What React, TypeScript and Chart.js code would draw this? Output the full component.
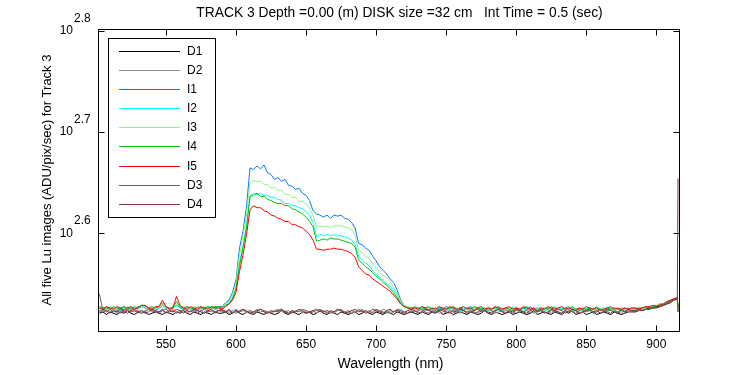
import { useEffect, useRef } from 'react';
import { Chart, registerables } from 'chart.js';

Chart.register(...registerables);

const wavelengths = [
  502.5,505,507.5,510,512.5,515,517.5,520,522.5,525,527.5,530,532.5,535,537.5,540,542.5,545,547.5,550,552.5,555,557.5,560,562.5,565,567.5,570,572.5,575,577.5,580,582.5,585,587.5,
  590,592.5,595,597.5,600,602.5,605,607.5,610,612.5,615,617.5,620,622.5,625,627.5,630,632.5,635,637.5,640,642.5,645,647.5,650,652.5,655,657.5,660,662.5,665,667.5,670,672.5,675,677.5,680,682.5,685,687.5,690,692.5,695,697.5,700,702.5,705,707.5,710,712.5,715,717.5,720,722.5,725,
  727.5,730,732.5,735,737.5,740,742.5,745,747.5,750,752.5,755,757.5,760,762.5,765,767.5,770,772.5,775,777.5,780,782.5,785,787.5,790,792.5,795,797.5,800,802.5,805,807.5,810,812.5,815,817.5,820,822.5,825,827.5,830,832.5,835,837.5,840,842.5,845,847.5,850,852.5,855,857.5,860,862.5,865,867.5,870,872.5,875,877.5,880,882.5,885,887.5,890,892.5,895,897.5,900,902.5,905,907.5,910,912.5,915,
  915.5,
];

const D1 = [
  332,333,331,333,332,331,333,332,334,332,331,333,332,333,331,332,333,332,331,333,332,331,333,332,334,332,331,333,332,331,333,332,331,333,332,
  332,333,331,332,334,332,331,333,332,331,333,332,331,333,332,331,332,334,332,331,333,332,331,333,332,333,331,332,334,332,331,333,332,331,333,332,331,332,333,331,332,334,332,331,333,332,331,333,332,331,333,332,331,332,333,
  332,331,333,332,331,333,332,334,331,332,333,331,332,333,332,331,333,332,331,332,334,332,331,333,332,331,332,333,331,332,333,332,331,332,334,331,332,333,332,331,333,332,331,333,332,334,331,332,333,331,332,333,331,332,333,332,331,333,332,331,332,333,
  333,333,334,334,335,335,336,336,337,338,339,340,342,343,
  333,
];
const D2 = [
  334,333,335,333,334,332,334,333,335,334,333,334,332,334,335,333,334,333,334,332,334,335,333,334,333,332,334,335,333,334,332,334,333,335,334,
  333,334,332,334,335,333,334,332,334,333,335,333,334,332,333,334,335,333,334,332,334,333,335,332,334,333,334,332,335,333,334,333,332,334,335,333,334,332,333,334,335,333,334,332,334,333,335,334,332,333,334,335,333,334,333,
  334,333,332,334,335,333,334,332,333,334,335,333,334,332,334,333,335,333,332,334,333,335,334,332,333,334,335,333,334,332,334,333,335,334,332,333,334,333,335,332,334,333,332,334,335,333,334,333,332,334,335,333,334,332,334,333,335,334,333,332,334,333,
  334,334,334,335,335,336,336,337,337,338,339,341,342,343,
  334,
];
const I1 = [
  336,335,337,335,336,334,336,337,335,336,335,337,337,336,335,336,334,336,338,336,335,336,338,336,335,337,335,336,334,336,335,337,336,336,337,
  337,340,342,348,358,385,400,423,462,460,464,461,465,457,455,450,452,448,450,444,443,440,441,436,434,429,419,416,415,413,415,412,415,414,415,412,411,408,403,389,388,385,383,378,374,369,366,363,359,356,350,342,338,336,336,
  336,335,337,336,335,336,334,336,335,337,336,335,334,336,335,336,337,335,336,334,335,336,335,337,335,334,336,335,336,335,334,336,335,337,335,336,334,335,336,335,334,336,335,336,337,335,334,335,336,335,334,336,335,335,336,334,335,336,335,334,335,336,
  335,336,335,336,336,337,336,337,338,339,340,341,343,343,
  336,
];
const I2 = [
  335,336,335,337,336,335,334,336,335,337,336,335,337,337,336,335,336,335,338,335,336,337,338,336,336,334,336,335,336,337,335,336,337,335,336,
  336,338,340,344,352,373,387,405,433,436,435,436,434,434,432,432,430,429,426,426,424,424,422,421,418,415,408,395,397,396,397,396,397,396,396,395,394,392,388,378,375,372,370,366,363,360,358,355,353,350,346,341,338,337,335,
  335,336,334,336,337,335,336,335,334,336,335,337,336,334,335,336,335,337,335,336,334,335,336,335,336,334,336,335,337,335,336,335,334,336,335,336,335,334,336,335,337,335,336,334,335,336,335,334,336,335,336,335,334,335,336,335,336,334,335,336,334,335,
  336,335,336,335,337,336,337,337,338,338,339,341,342,344,
  335,
];
const I3 = [
  336,337,335,336,334,336,336,335,337,335,336,336,337,336,335,336,335,336,339,336,336,335,339,337,335,336,335,337,336,335,337,336,335,337,336,
  336,339,341,346,355,379,396,415,446,449,448,448,445,445,441,442,439,439,435,435,432,432,428,428,425,422,414,404,405,404,405,403,405,405,405,404,403,401,396,383,381,378,376,372,368,364,362,360,357,352,347,341,338,337,336,
  336,335,337,335,336,334,336,337,335,336,334,336,335,336,337,335,334,336,335,336,335,337,336,335,334,336,335,336,335,337,335,334,336,335,336,335,337,335,334,336,335,336,334,335,337,336,335,334,336,335,336,334,335,336,335,337,335,334,335,336,335,336,
  335,336,336,335,336,337,336,337,338,339,340,341,342,343,
  336,
];
const I4 = [
  337,336,336,335,337,336,335,337,336,335,337,336,338,338,336,337,336,337,340,337,336,336,341,337,336,337,336,335,337,336,336,337,336,337,337,
  336,338,339,343,351,370,385,403,433,434,436,433,433,430,429,427,426,426,424,424,421,420,418,416,413,409,404,391,392,393,392,394,393,393,392,391,390,389,386,375,372,369,367,364,361,359,356,354,351,348,344,340,337,336,336,
  337,336,335,336,337,335,336,334,336,335,336,337,335,336,334,336,335,337,336,335,336,334,335,336,337,335,336,335,334,336,335,336,337,335,336,334,335,336,335,337,336,335,334,336,335,337,335,336,334,335,336,335,337,335,334,336,335,336,335,334,336,335,
  336,335,336,336,337,336,337,338,338,339,340,342,343,344,
  337,
];
const I5 = [
  336,335,337,336,335,337,336,334,336,337,335,336,338,338,336,335,337,337,342,337,335,336,345,338,336,335,337,336,335,337,336,335,337,336,336,
  335,337,339,342,348,365,379,397,420,424,422,422,419,418,415,414,412,411,409,409,406,406,404,403,400,397,392,384,384,383,384,384,385,384,384,383,382,380,377,369,366,363,362,359,357,355,353,351,349,346,343,339,337,336,335,
  336,335,337,336,334,336,335,337,336,335,337,336,335,336,337,335,336,334,336,337,335,336,335,337,336,335,336,337,335,336,335,337,336,335,336,334,336,335,337,336,335,336,337,335,336,335,334,336,335,337,336,335,336,334,335,336,337,335,336,335,336,335,
  336,336,335,336,337,337,338,337,339,339,341,342,343,344,
  336,
];
const D3 = [
  347,334,333,335,333,334,332,335,334,333,334,332,334,333,335,334,333,332,334,335,333,334,332,333,335,334,333,334,332,334,335,333,334,332,334,
  334,333,335,333,332,334,335,333,334,332,333,335,334,333,332,334,333,335,333,334,332,334,333,335,334,332,333,334,335,333,334,332,333,335,334,333,332,334,333,335,333,334,332,333,335,334,333,332,334,333,335,334,333,332,334,
  333,334,335,333,332,334,333,335,334,332,334,333,332,335,334,333,334,332,333,335,334,333,332,334,335,333,334,333,332,334,335,333,334,332,333,334,335,333,332,334,333,335,334,332,334,333,332,334,335,333,334,332,333,335,334,333,332,334,333,335,333,334,
  334,333,335,334,335,336,336,337,338,338,340,341,342,343,
  334,
];
const D4 = [
  333,335,334,332,334,333,335,333,332,334,335,333,334,332,333,335,334,333,335,332,334,333,335,334,332,334,333,335,334,333,332,334,335,333,334,
  335,333,334,332,334,333,335,334,332,333,334,335,333,332,334,333,334,335,333,332,334,333,335,334,332,333,334,335,333,334,332,334,333,335,334,332,333,334,335,333,334,332,333,335,334,333,332,334,335,333,334,333,332,334,335,
  334,332,333,335,334,333,332,334,335,333,332,334,333,335,334,332,333,334,335,333,334,332,333,334,335,333,332,334,333,335,334,333,332,334,335,333,334,332,333,335,334,333,332,334,333,335,334,332,333,334,335,333,334,332,333,335,334,333,332,334,333,335,
  334,334,335,334,335,336,336,337,337,338,339,341,342,343,
  451,
];

const seriesLabels = ['D1', 'D2', 'I1', 'I2', 'I3', 'I4', 'I5', 'D3', 'D4'];
const seriesValues = [D1, D2, I1, I2, I3, I4, I5, D3, D4];
const seriesColors = ['#000000', '#8c8c8c', '#0a78f0', '#00ffff', '#88f888', '#00c400', '#ff0000', '#7f5c5c', '#803434'];

const xTickValues = [550, 600, 650, 700, 750, 800, 850, 900];
const yTickExponents = ['2.6', '2.7', '2.8'];
const xLimits = [501.5, 916.2];
const yExpLimits = [2.5036, 2.8017];

const titleText = 'TRACK 3 Depth =0.00 (m) DISK size =32 cm   Int Time = 0.5 (sec)';
const xTitle = 'Wavelength (nm)';
const yTitle = 'All five Lu images (ADU/pix/sec) for Track 3';

const FONT = '"Liberation Sans", Arial, Helvetica, sans-serif';

const matlabAxes = {
  id: 'matlabAxes',
  afterDatasetsDraw(chart: any) {
    const { ctx, chartArea: a, scales } = chart;
    const xs = scales.x;
    const ys = scales.y;
    const L = Math.floor(a.left) + 0.5;
    const R = Math.floor(a.right) + 0.5;
    const T = Math.floor(a.top) + 0.5;
    const B = Math.floor(a.bottom) + 0.5;
    ctx.save();
    ctx.strokeStyle = '#000';
    ctx.lineWidth = 1;
    ctx.strokeRect(L, T, R - L, B - T);
    const tl = 6;
    ctx.beginPath();
    xTickValues.forEach((v) => {
      const px = Math.round(xs.getPixelForValue(v)) + 0.5;
      ctx.moveTo(px, B);
      ctx.lineTo(px, B - tl);
      ctx.moveTo(px, T);
      ctx.lineTo(px, T + tl);
    });
    yTickExponents.forEach((e) => {
      const py = Math.round(ys.getPixelForValue(Math.pow(10, parseFloat(e)))) + 0.5;
      ctx.moveTo(L, py);
      ctx.lineTo(L + tl, py);
      ctx.moveTo(R, py);
      ctx.lineTo(R - tl, py);
    });
    ctx.stroke();

    ctx.fillStyle = '#000';
    ctx.font = '12px ' + FONT;
    ctx.textAlign = 'center';
    ctx.textBaseline = 'middle';
    xTickValues.forEach((v) => {
      ctx.fillText(String(v), xs.getPixelForValue(v), 345);
    });
    yTickExponents.forEach((e) => {
      const py = ys.getPixelForValue(Math.pow(10, parseFloat(e)));
      ctx.textAlign = 'right';
      ctx.fillText('10', a.left - 25, py);
      ctx.textAlign = 'left';
      ctx.fillText(e, a.left - 24, py - 12.5);
    });

    // title
    ctx.font = '13.8px ' + FONT;
    ctx.textAlign = 'center';
    ctx.fillText(titleText, (a.left + a.right) / 2 + 11, 13);
    ctx.font = '14px ' + FONT;
    ctx.fillText(xTitle, (a.left + a.right) / 2 + 2, 364);
    ctx.save();
    ctx.translate(47, (a.top + a.bottom) / 2);
    ctx.rotate(-Math.PI / 2);
    ctx.font = '13px ' + FONT;
    ctx.fillText(yTitle, 0, 0);
    ctx.restore();

    // legend
    const lx0 = 108.5, ly0 = 38.5, lx1 = 215.5, ly1 = 217.5;
    ctx.fillStyle = '#fff';
    ctx.fillRect(lx0, ly0, lx1 - lx0, ly1 - ly0);
    ctx.strokeStyle = '#000';
    ctx.strokeRect(lx0, ly0, lx1 - lx0, ly1 - ly0);
    ctx.font = '12px ' + FONT;
    ctx.textAlign = 'left';
    chart.data.datasets.forEach((ds: any, i: number) => {
      const ry = Math.round(50.7 + 19.15 * i) + 0.5;
      ctx.strokeStyle = ds.borderColor;
      ctx.beginPath();
      ctx.moveTo(119, ry);
      ctx.lineTo(180, ry);
      ctx.stroke();
      ctx.fillStyle = '#000';
      ctx.fillText(ds.label, 187, ry);
    });
    ctx.restore();
  },
};

export default function App() {
  const canvasRef = useRef<HTMLCanvasElement | null>(null);

  useEffect(() => {
    document.body.style.margin = '0';
    const canvas = canvasRef.current;
    if (!canvas) return;
    const datasets = seriesValues.map((vals, i) => ({
      label: seriesLabels[i],
      data: wavelengths.map((w, j) => ({ x: w, y: vals[j] })),
      borderColor: seriesColors[i],
      backgroundColor: seriesColors[i],
      borderWidth: 1,
      pointRadius: 0,
      fill: false,
      tension: 0,
      order: seriesValues.length - i,
    }));
    const chart = new Chart(canvas, {
      type: 'line',
      data: { datasets },
      options: {
        animation: false,
        responsive: false,
        events: [],
        layout: { padding: { left: 98, right: 71, top: 29, bottom: 44 } },
        plugins: {
          legend: { display: false },
          tooltip: { enabled: false },
          title: { display: false },
        },
        scales: {
          x: { type: 'linear', min: xLimits[0], max: xLimits[1], display: false },
          y: {
            type: 'logarithmic',
            min: Math.pow(10, yExpLimits[0]),
            max: Math.pow(10, yExpLimits[1]),
            display: false,
          },
        },
      },
      plugins: [matlabAxes],
    });
    return () => chart.destroy();
  }, []);

  return (
    <div style={{ width: 750, height: 375, background: '#fff' }}>
      <canvas ref={canvasRef} width={750} height={375} style={{ display: 'block' }} />
    </div>
  );
}
